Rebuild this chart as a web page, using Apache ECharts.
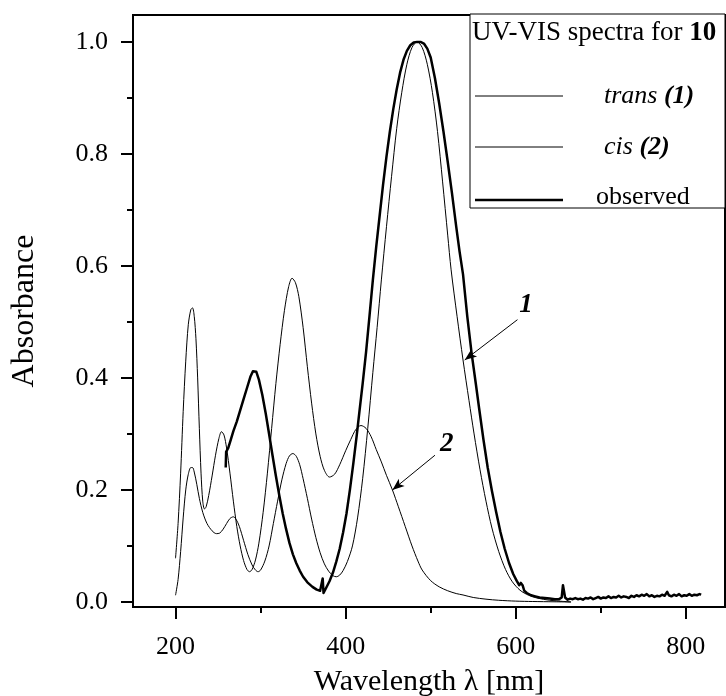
<!DOCTYPE html>
<html><head><meta charset="utf-8">
<script src="https://cdn.jsdelivr.net/npm/echarts@6/dist/echarts.min.js"></script>
<style>html,body{margin:0;padding:0;background:#fff}#c{width:726px;height:696px}</style>
</head><body><div id="c"></div>
<script>
// ---- data (wavelength nm, absorbance) ----
const xMajorTicks = [200, 400, 600, 800];
const xMinorTicks = [300, 500, 700];
const yMajorTicks = [0, 0.2, 0.4, 0.6, 0.8, 1.0];
const yMinorTicks = [0.1, 0.3, 0.5, 0.7, 0.9];

const transData = [
[200,0.012],[203,0.04],[206,0.09],[209,0.15],[212,0.2],[215,0.228],[218,0.24],[220,0.24],[222,0.232],[225,0.21],
[228,0.185],[232,0.16],[237,0.14],[243,0.127],[248,0.122],[252,0.123],[256,0.13],[260,0.14],[264,0.149],[268,0.152],
[271,0.148],[275,0.135],[280,0.11],[285,0.085],[290,0.066],[294,0.057],[297,0.054],[300,0.057],[305,0.073],[310,0.1],
[315,0.14],[320,0.18],[325,0.218],[330,0.247],[334,0.261],[338,0.265],[342,0.26],[346,0.245],[350,0.22],[355,0.185],
[360,0.148],[365,0.115],[370,0.088],[375,0.068],[380,0.055],[385,0.047],[389,0.045],[393,0.048],[397,0.056],[402,0.072],
[408,0.1],[414,0.15],[420,0.22],[426,0.31],[432,0.41],[437,0.49],[442,0.575],[448,0.67],[454,0.76],[460,0.845],
[466,0.91],[472,0.96],[478,0.99],[484,1.0],[490,0.99],[496,0.96],[502,0.91],[508,0.84],[514,0.75],[520,0.655],
[524,0.593],[531,0.51],[538,0.432],[545,0.36],[551,0.3],[558,0.236],[565,0.18],[572,0.132],[580,0.09],[588,0.058],
[596,0.036],[605,0.021],[615,0.012],[625,0.007],[640,0.003],[655,0.001],[665,0.0]
];

const cisData = [
[200,0.078],[203,0.14],[206,0.23],[209,0.34],[212,0.43],[215,0.495],[218,0.522],[220,0.525],[222,0.51],[224,0.47],
[226,0.4],[228,0.31],[230,0.23],[232,0.18],[234,0.166],[236,0.17],[239,0.19],[243,0.225],[247,0.262],[251,0.292],
[254,0.304],[257,0.298],[260,0.275],[264,0.23],[268,0.18],[272,0.135],[276,0.1],[280,0.074],[284,0.058],[287,0.054],
[290,0.058],[294,0.075],[298,0.105],[303,0.16],[308,0.23],[313,0.31],[318,0.39],[323,0.46],[328,0.52],[333,0.563],
[337,0.578],[341,0.57],[345,0.545],[350,0.49],[355,0.42],[360,0.355],[365,0.3],[370,0.26],[375,0.235],[381,0.223],
[387,0.228],[393,0.245],[400,0.27],[406,0.29],[412,0.308],[418,0.315],[424,0.31],[430,0.295],[436,0.272],[442,0.25],
[448,0.226],[455,0.2],[462,0.17],[470,0.135],[478,0.1],[485,0.073],[490,0.057],[500,0.038],[510,0.027],[520,0.02],
[530,0.015],[538,0.0125],[550,0.008],[565,0.005],[580,0.003],[600,0.0015],[620,0.0008],[645,0.0003],[665,0.0]
];

const observedData = [
[259,0.24],[259.5,0.268],[262,0.275],[265,0.29],[268,0.305],[272,0.322],[276,0.342],[280,0.362],[284,0.382],[288,0.402],
[291,0.412],[293,0.414],[295,0.411],[298,0.397],[302,0.37],[306,0.337],[310,0.3],[314,0.262],[318,0.225],[322,0.19],
[326,0.158],[330,0.13],[334,0.105],[338,0.085],[342,0.069],[346,0.056],[350,0.045],[355,0.035],[361,0.027],[366,0.022],
[370,0.02],[372,0.019],[373,0.042],[374,0.016],[377,0.025],[381,0.037],[385,0.052],[389,0.072],[393,0.095],[397,0.124],
[401,0.158],[405,0.2],[409,0.247],[413,0.297],[416,0.337],[420,0.39],[424,0.446],[428,0.51],[432,0.575],[436,0.635],
[440,0.69],[444,0.745],[448,0.795],[452,0.84],[456,0.88],[460,0.915],[464,0.945],[468,0.968],[472,0.984],[476,0.994],
[480,0.999],[484,1.0],[488,1.0],[492,0.997],[496,0.988],[500,0.972],[505,0.935],[510,0.89],[515,0.84],[520,0.786],
[525,0.73],[530,0.67],[534,0.625],[538,0.585],[543,0.51],[548,0.445],[553,0.39],[557,0.345],[562,0.29],[567,0.24],
[572,0.198],[577,0.16],[582,0.125],[587,0.095],[592,0.07],[597,0.05],[601,0.038],[604,0.03],[606,0.034],[608,0.03],
[610,0.02],[613,0.016],[618,0.012],[623,0.01],[628,0.008],[634,0.007],[640,0.006],[646,0.005],[651,0.005],[654,0.008],
[655.5,0.03],[657,0.028],[658,0.008],[661,0.004],[664,0.006],[667,0.005],[670,0.007],[673,0.005],[676,0.006],[679,0.004],
[682,0.007],[685,0.006],[688,0.008],[691,0.005],[694,0.007],[697,0.009],[700,0.006],[703,0.008],[706,0.007],[709,0.01],
[712,0.007],[715,0.009],[718,0.008],[721,0.011],[724,0.008],[727,0.01],[730,0.009],[733,0.007],[736,0.011],[739,0.009],
[742,0.012],[745,0.01],[748,0.013],[751,0.011],[754,0.014],[757,0.01],[760,0.012],[763,0.009],[766,0.011],[769,0.01],
[772,0.013],[775,0.011],[778,0.018],[780,0.012],[783,0.01],[786,0.013],[789,0.011],[792,0.014],[795,0.01],[798,0.012],
[801,0.011],[804,0.014],[807,0.011],[810,0.013],[813,0.012],[816,0.014],[818,0.013]
];

// annotation arrows (data coords): [tail, tip], and label anchor
const arrow1 = [[602, 0.504], [540, 0.432]];
const arrow2 = [[505, 0.262], [455, 0.2]];
const label1Pos = [612, 0.53];
const label2Pos = [519, 0.282];

const seriesNames = ['trans (1)', 'cis (2)', 'observed'];
const legendTitle = 'UV-VIS spectra for ';
const legendTitleBold = '10';

// ---- chart ----
const FONT = "'Liberation Serif','Times New Roman',serif";
const chart = echarts.init(document.getElementById('c'), null, {renderer: 'canvas'});
const X_MIN = 150, X_MAX = 846, Y_MIN = -0.009, Y_MAX = 1.048;
const axisLineStyle = {color: '#000', width: 2};

const option = {
  backgroundColor: '#fff',
  animation: false,
  grid: {left: 133, right: 1, top: 15, bottom: 89, show: true, borderColor: '#000', borderWidth: 2,
         containLabel: false, outerBoundsMode: 'none'},
  xAxis: [
    {
      type: 'value', min: X_MIN, max: X_MAX, position: 'bottom',
      name: 'Wavelength λ [nm]', nameLocation: 'middle', nameGap: 60,
      nameTextStyle: {fontFamily: FONT, fontSize: 30, color: '#000'},
      axisLine: {show: true, onZero: false, lineStyle: axisLineStyle},
      axisTick: {show: true, inside: false, length: 12, customValues: xMajorTicks, lineStyle: axisLineStyle},
      axisLabel: {show: true, customValues: xMajorTicks, margin: 27, fontFamily: FONT, fontSize: 26, color: '#000'},
      splitLine: {show: false}
    },
    {
      type: 'value', min: X_MIN, max: X_MAX, position: 'bottom',
      axisLine: {show: false, onZero: false},
      axisTick: {show: true, inside: false, length: 6, customValues: xMinorTicks, lineStyle: axisLineStyle},
      axisLabel: {show: false},
      splitLine: {show: false}
    }
  ],
  yAxis: [
    {
      type: 'value', min: Y_MIN, max: Y_MAX, position: 'left',
      name: 'Absorbance', nameLocation: 'middle', nameGap: 92,
      nameTextStyle: {fontFamily: FONT, fontSize: 32, color: '#000'},
      axisLine: {show: true, onZero: false, lineStyle: axisLineStyle},
      axisTick: {show: true, inside: false, length: 12, customValues: yMajorTicks, lineStyle: axisLineStyle},
      axisLabel: {show: true, customValues: yMajorTicks, margin: 25, fontFamily: FONT, fontSize: 26, color: '#000',
                  formatter: v => Number(v).toFixed(1)},
      splitLine: {show: false}
    },
    {
      type: 'value', min: Y_MIN, max: Y_MAX, position: 'left',
      axisLine: {show: false, onZero: false},
      axisTick: {show: true, inside: false, length: 6, customValues: yMinorTicks, lineStyle: axisLineStyle},
      axisLabel: {show: false},
      splitLine: {show: false}
    }
  ],
  series: [
    {
      name: seriesNames[0], type: 'line', data: transData, xAxisIndex: 0, yAxisIndex: 0,
      showSymbol: false, symbol: 'none', smooth: 0.3, silent: true,
      lineStyle: {color: '#000', width: 1},
      markLine: {
        silent: true, symbol: ['none', 'arrow'], symbolSize: [7, 12],
        lineStyle: {color: '#000', width: 1, type: 'solid'}, label: {show: false},
        data: [
          [{coord: arrow1[0]}, {coord: arrow1[1]}],
          [{coord: arrow2[0]}, {coord: arrow2[1]}]
        ]
      }
    },
    {
      name: seriesNames[1], type: 'line', data: cisData, xAxisIndex: 0, yAxisIndex: 0,
      showSymbol: false, symbol: 'none', smooth: 0.3, silent: true,
      lineStyle: {color: '#000', width: 1}
    },
    {
      name: seriesNames[2], type: 'line', data: observedData, xAxisIndex: 0, yAxisIndex: 0,
      showSymbol: false, symbol: 'none', smooth: false, silent: true,
      lineStyle: {color: '#000', width: 2.5, join: 'round'}
    }
  ]
};
chart.setOption(option);

// annotation labels & legend
const p1 = chart.convertToPixel({xAxisIndex: 0, yAxisIndex: 0}, label1Pos);
const p2 = chart.convertToPixel({xAxisIndex: 0, yAxisIndex: 0}, label2Pos);
const LX = 470, LY = 14, LW = 255, LH = 194;
const rows = [96, 147, 200];
chart.setOption({
  graphic: [
    {type: 'text', x: p1[0], y: p1[1], style: {text: '1', font: `italic bold 27px ${FONT}`, fill: '#000', align: 'center', verticalAlign: 'middle'}},
    {type: 'text', x: p2[0], y: p2[1], style: {text: '2', font: `italic bold 27px ${FONT}`, fill: '#000', align: 'center', verticalAlign: 'middle'}},
    {type: 'rect', shape: {x: LX, y: LY, width: LW, height: LH}, style: {fill: '#fff', stroke: '#000', lineWidth: 1}},
    {type: 'text', x: 472, y: 33, style: {
      text: '{r|' + legendTitle + '}{b|' + legendTitleBold + '}', verticalAlign: 'middle', align: 'left',
      rich: {r: {font: `27px ${FONT}`, fill: '#000'}, b: {font: `bold 27px ${FONT}`, fill: '#000'}}
    }},
    {type: 'line', shape: {x1: 475, y1: rows[0], x2: 563, y2: rows[0]}, style: {stroke: '#000', lineWidth: 1}},
    {type: 'line', shape: {x1: 475, y1: rows[1], x2: 563, y2: rows[1]}, style: {stroke: '#000', lineWidth: 1}},
    {type: 'line', shape: {x1: 475, y1: rows[2], x2: 563, y2: rows[2]}, style: {stroke: '#000', lineWidth: 2.5}},
    {type: 'text', x: 604, y: rows[0], style: {
      text: '{i|trans }{bi|(1)}', verticalAlign: 'middle',
      rich: {i: {font: `italic 26px ${FONT}`, fill: '#000'}, bi: {font: `italic bold 26px ${FONT}`, fill: '#000'}}
    }},
    {type: 'text', x: 604, y: rows[1], style: {
      text: '{i|cis }{bi|(2)}', verticalAlign: 'middle',
      rich: {i: {font: `italic 26px ${FONT}`, fill: '#000'}, bi: {font: `italic bold 26px ${FONT}`, fill: '#000'}}
    }},
    {type: 'text', x: 596, y: rows[2] - 3, style: {text: 'observed', font: `26px ${FONT}`, fill: '#000', verticalAlign: 'middle'}}
  ]
});
</script>
</body></html>
